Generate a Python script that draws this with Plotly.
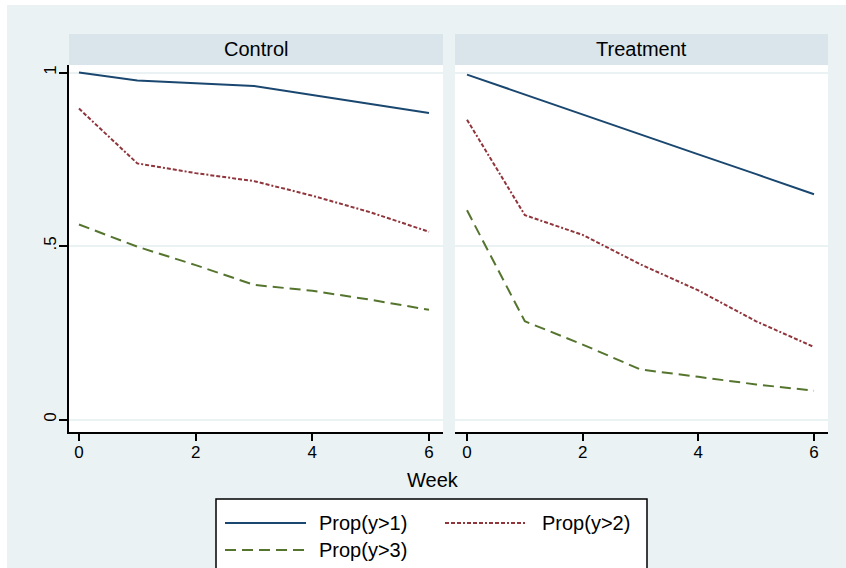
import plotly.graph_objects as go

# ---- data ----
weeks = [0, 1, 2, 3, 4, 5, 6]
panels = ["Control", "Treatment"]
series_names = ["Prop(y>1)", "Prop(y>2)", "Prop(y>3)"]
control_p1 = [1.0, 0.977, 0.969, 0.961, 0.935, 0.909, 0.883]
control_p2 = [0.896, 0.738, 0.710, 0.687, 0.645, 0.597, 0.541]
control_p3 = [0.562, 0.498, 0.445, 0.388, 0.371, 0.345, 0.316]
treat_p1 = [0.994, 0.936, 0.879, 0.822, 0.764, 0.707, 0.649]
treat_p2 = [0.864, 0.589, 0.532, 0.447, 0.372, 0.283, 0.209]
treat_p3 = [0.603, 0.283, 0.216, 0.144, 0.123, 0.101, 0.083]
x_ticks = [0, 2, 4, 6]
y_ticks = [0, 0.5, 1]
y_ticktext = ["0", ".5", "1"]

W, H = 846, 568
def px(x):
    return x / W
def py(y):
    return 1 - y / H

colors = ["#1a476f", "#90353b", "#55752f"]
dashes = ["solid", "4px,2px,4px,2px,4px,2px,2px,2px", "11px,6px"]
FONT = "Liberation Sans, Arial, sans-serif"
BG = "#EAF2F3"
STRIP = "#D9E5EA"
TICK_SIZE = 17
TITLE_SIZE = 20

fig = go.Figure()
data = {
    "x": [control_p1, control_p2, control_p3],
    "x2": [treat_p1, treat_p2, treat_p3],
}
for xa, ya, key in [("x", "y", "x"), ("x2", "y2", "x2")]:
    for i, vals in enumerate(data[key]):
        fig.add_trace(go.Scatter(
            x=weeks, y=vals, mode="lines", xaxis=xa, yaxis=ya,
            name=series_names[i], showlegend=False,
            line=dict(color=colors[i], width=2, dash=dashes[i]),
        ))

axis_common = dict(
    showgrid=False, zeroline=False, showline=True, linecolor="black", linewidth=1.5,
    ticks="outside", ticklen=7, tickwidth=1.5, tickcolor="black",
    tickfont=dict(family=FONT, size=TICK_SIZE, color="black"),
    tickvals=x_ticks, ticklabelstandoff=-3,
)
fig.update_layout(
    width=W, height=H,
    margin=dict(l=0, r=0, t=0, b=0),
    paper_bgcolor=BG, plot_bgcolor="white",
    font=dict(family=FONT, color="black"),
    showlegend=False,
    xaxis=dict(domain=[px(69), px(443)], range=[-0.171, 6.24], anchor="y", **axis_common),
    xaxis2=dict(domain=[px(455), px(828)], range=[-0.2075, 6.242], anchor="y2", **axis_common),
    yaxis=dict(domain=[py(432), py(65)], range=[-0.036, 1.0216], anchor="x",
               showgrid=True, gridcolor=BG, gridwidth=1.5, zeroline=False,
               showline=True, linecolor="black", linewidth=1.5,
               ticks="outside", ticklen=8, tickwidth=1.5, tickcolor="black",
               tickvals=y_ticks, ticktext=y_ticktext, tickangle=-90,
               ticklabelstandoff=-4,
               tickfont=dict(family=FONT, size=TICK_SIZE, color="black")),
    yaxis2=dict(domain=[py(432), py(65)], range=[-0.036, 1.0216], anchor="x2",
                showgrid=True, gridcolor=BG, gridwidth=1.5, zeroline=False,
                showline=False, showticklabels=False, ticks="",
                tickvals=y_ticks),
)

shapes = []
# white outer margin (top / left)
shapes.append(dict(type="rect", xref="paper", yref="paper", x0=-0.01, x1=px(7), y0=-0.01, y1=1.01,
                   fillcolor="white", line=dict(width=0), layer="above"))
shapes.append(dict(type="rect", xref="paper", yref="paper", x0=-0.01, x1=1.01, y0=py(5), y1=1.01,
                   fillcolor="white", line=dict(width=0), layer="above"))
# strips
annotations = []
for (x0, x1), title in zip([(69, 443), (455, 828)], panels):
    shapes.append(dict(type="rect", xref="paper", yref="paper", x0=px(x0), x1=px(x1),
                       y0=py(65), y1=py(34), fillcolor=STRIP, line=dict(width=0), layer="above"))
    annotations.append(dict(xref="paper", yref="paper", x=px((x0 + x1) / 2), y=py(49),
                            text=title, showarrow=False, xanchor="center", yanchor="middle",
                            font=dict(family=FONT, size=TITLE_SIZE, color="black")))

# x axis title
annotations.append(dict(xref="paper", yref="paper", x=px(433), y=py(480), text="Week",
                        showarrow=False, xanchor="center", yanchor="middle",
                        font=dict(family=FONT, size=TITLE_SIZE, color="black")))

# legend box
shapes.append(dict(type="rect", xref="paper", yref="paper", x0=px(216), x1=px(647),
                   y0=-0.05, y1=py(499), fillcolor="white",
                   line=dict(color="black", width=1.5), layer="above"))
legend_pos = [(225, 306, 317, 523), (445, 525, 540, 523), (225, 306, 317, 550)]
for i, (lx0, lx1, tx, ly) in enumerate(legend_pos):
    shapes.append(dict(type="line", xref="paper", yref="paper", x0=px(lx0), x1=px(lx1),
                       y0=py(ly), y1=py(ly), line=dict(color=colors[i], width=2, dash=dashes[i]),
                       layer="above"))
    annotations.append(dict(xref="paper", yref="paper", x=px(tx), y=py(ly), text=series_names[i],
                            showarrow=False, xanchor="left", yanchor="middle",
                            font=dict(family=FONT, size=TITLE_SIZE, color="black")))

fig.update_layout(shapes=shapes, annotations=annotations)
fig.write_html("out.html")
